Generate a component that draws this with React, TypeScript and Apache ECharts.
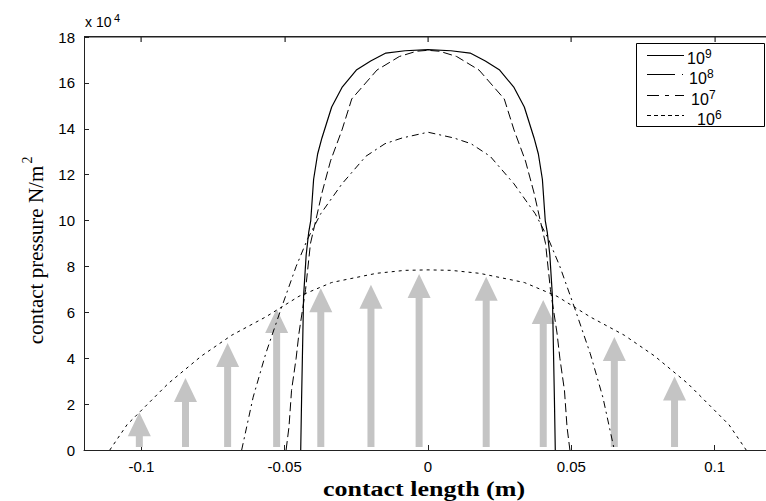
import React, { useEffect, useRef } from 'react';
import * as echarts from 'echarts';

// ---- data ----
const xTicks = [-0.1, -0.05, 0, 0.05, 0.1];
const yTicks = [0, 2, 4, 6, 8, 10, 12, 14, 16, 18];

const e9x = [-0.0444, -0.0441, -0.0434, -0.0425, -0.0416, -0.0409, -0.0399, -0.0385, -0.037, -0.0336, -0.030, -0.025, -0.020, -0.0147, -0.008, 0, 0.008, 0.0147, 0.020, 0.025, 0.030, 0.0336, 0.037, 0.0385, 0.0399, 0.0409, 0.0416, 0.0425, 0.0434, 0.0441, 0.0444];
const e9y = [0, 2.2, 6.7, 8.5, 9.5, 10.0, 11.8, 12.9, 13.6, 14.95, 15.8, 16.56, 16.95, 17.3, 17.4, 17.45, 17.4, 17.3, 16.95, 16.56, 15.8, 14.95, 13.6, 12.9, 11.8, 10.0, 9.5, 8.5, 6.7, 2.2, 0];

const e8x = [-0.0495, -0.0485, -0.0476, -0.046, -0.045, -0.0427, -0.041, -0.0388, -0.037, -0.034, -0.030, -0.0266, -0.0178, -0.010, -0.004, 0, 0.004, 0.010, 0.0178, 0.0266, 0.030, 0.034, 0.037, 0.0388, 0.041, 0.0427, 0.045, 0.046, 0.0476, 0.0485, 0.0495];
const e8y = [0, 1.0, 2.6, 4.0, 5.1, 7.0, 9.0, 10.2, 11.2, 12.6, 13.95, 15.3, 16.56, 17.15, 17.38, 17.42, 17.38, 17.15, 16.56, 15.3, 13.95, 12.6, 11.2, 10.2, 9.0, 7.0, 5.1, 4.0, 2.6, 1.0, 0];

const e7x = [-0.065, -0.061, -0.0566, -0.0514, -0.046, -0.042, -0.0374, -0.030, -0.0217, -0.015, -0.009, 0, 0.009, 0.015, 0.0217, 0.030, 0.0374, 0.042, 0.046, 0.0514, 0.0566, 0.061, 0.065];
const e7y = [0, 2.3, 4.2, 6.1, 8.0, 9.2, 10.3, 11.6, 12.8, 13.35, 13.6, 13.85, 13.6, 13.35, 12.8, 11.6, 10.3, 9.2, 8.0, 6.1, 4.2, 2.3, 0];

const e6x = [-0.111, -0.105, -0.0986, -0.0906, -0.079, -0.0685, -0.0566, -0.045, -0.0336, -0.018, -0.008, 0, 0.008, 0.018, 0.0336, 0.045, 0.0566, 0.0685, 0.079, 0.0906, 0.0986, 0.105, 0.111];
const e6y = [0, 1.1, 1.9, 2.9, 4.1, 5.0, 5.8, 6.7, 7.3, 7.7, 7.83, 7.85, 7.83, 7.7, 7.3, 6.7, 5.8, 5.0, 4.1, 2.9, 1.9, 1.1, 0];

const arrowX = [-0.1007, -0.0846, -0.0699, -0.0528, -0.0374, -0.0199, -0.0031, 0.0203, 0.0402, 0.065, 0.086];
const arrowTip = [1.65, 3.14, 4.66, 6.15, 7.05, 7.2, 7.67, 7.55, 6.54, 4.93, 3.2];

const X_MIN = -0.12;
const X_MAX = 0.12;
const Y_MAX = 18;

const zip = (xs: number[], ys: number[]) => xs.map((x, i) => [x, ys[i]]);

export default function App() {
  const ref = useRef<HTMLDivElement>(null);

  useEffect(() => {
    if (!ref.current) return;
    const chart = echarts.init(ref.current, undefined, { renderer: 'svg' });
    const axisColor = '#222';
    const lineBase = { type: 'line', showSymbol: false, symbol: 'none', z: 3, silent: true };
    const arrowFill = '#c4c4c4';
    const txt = (x: number, y: number, text: string, size: number, extra: any = {}) => ({
      type: 'text', z: 11, x, y,
      style: { text, fontFamily: 'Liberation Sans', fontSize: size, fill: '#000', align: 'left', verticalAlign: 'bottom', textAlign: 'left', textVerticalAlign: 'bottom', ...extra },
    });

    const option: any = {
      animation: false,
      backgroundColor: '#fff',
      grid: { left: 84, top: 37, right: -6, bottom: 51, containLabel: false, outerBoundsMode: 'none' },
      xAxis: [
        {
          type: 'value', min: X_MIN, max: X_MAX, position: 'bottom',
          axisLine: { show: true, onZero: false, lineStyle: { color: axisColor, width: 1 } },
          axisTick: { show: true, inside: true, length: 5, customValues: xTicks, lineStyle: { color: axisColor } },
          axisLabel: {
            customValues: xTicks, color: '#000', fontFamily: 'Liberation Sans', fontSize: 15, margin: 9,
            formatter: (v: number) => String(v),
          },
          splitLine: { show: false },
        },
      ],
      yAxis: [
        {
          type: 'value', min: 0, max: Y_MAX, interval: 2, position: 'left',
          axisLine: { show: true, onZero: false, lineStyle: { color: axisColor, width: 1 } },
          axisTick: { show: true, inside: true, length: 5, lineStyle: { color: axisColor } },
          axisLabel: { color: '#000', fontFamily: 'Liberation Sans', fontSize: 15, margin: 9, customValues: yTicks },
          splitLine: { show: false },
        },
      ],
      series: [
        {
          type: 'custom', name: 'arrows', z: 1, silent: true,
          data: zip(arrowX, arrowTip),
          renderItem: (params: any, api: any) => {
            const tip = api.coord([api.value(0), api.value(1)]);
            const base = api.coord([api.value(0), 0]);
            const headH = 24, headW = 23, shaftW = 7;
            const shaftTop = tip[1] + headH - 1;
            const shaftBottom = base[1] - 3;
            return {
              type: 'group',
              children: [
                { type: 'rect', shape: { x: tip[0] - shaftW / 2, y: shaftTop, width: shaftW, height: Math.max(0, shaftBottom - shaftTop) }, style: { fill: arrowFill } },
                { type: 'polygon', shape: { points: [[tip[0], tip[1]], [tip[0] - headW / 2, tip[1] + headH], [tip[0] + headW / 2, tip[1] + headH]] }, style: { fill: arrowFill } },
              ],
            };
          },
        },
        {
          // inside ticks on the top frame edge, placed through the axis scales
          type: 'custom', name: 'topTicks', z: 4, silent: true, clip: false,
          data: xTicks.map((v) => [v, Y_MAX]),
          renderItem: (params: any, api: any) => {
            const p = api.coord([api.value(0), api.value(1)]);
            return { type: 'rect', shape: { x: Math.round(p[0]) - 0.5, y: p[1], width: 1.2, height: 5 }, style: { fill: axisColor } };
          },
        },
        { ...lineBase, name: '10^6', data: zip(e6x, e6y), lineStyle: { color: '#000', width: 1, type: [3, 4] } },
        { ...lineBase, name: '10^7', data: zip(e7x, e7y), lineStyle: { color: '#000', width: 1, type: [7, 4, 2, 4] } },
        { ...lineBase, name: '10^8', data: zip(e8x, e8y), lineStyle: { color: '#000', width: 1, type: [9, 4] } },
        { ...lineBase, name: '10^9', data: zip(e9x, e9y), lineStyle: { color: '#000', width: 1.2 } },
      ],
      graphic: [
        // plot frame top edge
        { type: 'rect', z: 20, shape: { x: 84, y: 36, width: 682, height: 1.4 }, style: { fill: axisColor } },
        // multiplier
        txt(85, 29, 'x 10', 14),
        txt(114, 23, '4', 11),
        // y axis title
        { type: 'text', x: 36, y: 255, rotation: Math.PI / 2, style: { text: 'contact pressure N/m', fontFamily: 'Liberation Serif', fontSize: 21, fill: '#000', align: 'center', verticalAlign: 'middle', textAlign: 'center', textVerticalAlign: 'middle' } },
        { type: 'text', x: 27, y: 160, rotation: Math.PI / 2, style: { text: '2', fontFamily: 'Liberation Serif', fontSize: 14, fill: '#000', align: 'center', verticalAlign: 'middle', textAlign: 'center', textVerticalAlign: 'middle' } },
        // x axis title
        { type: 'text', x: 424, y: 489, scaleX: 1.3, style: { text: 'contact length (m)', fontFamily: 'Liberation Serif', fontWeight: 'bold', fontSize: 20, fill: '#000', align: 'center', verticalAlign: 'middle', textAlign: 'center', textVerticalAlign: 'middle' } },
        // legend
        { type: 'rect', z: 10, shape: { x: 636.5, y: 43.5, width: 128, height: 83 }, style: { fill: '#fff', stroke: '#000', lineWidth: 1 } },
        { type: 'line', z: 11, shape: { x1: 647, y1: 55.5, x2: 684, y2: 55.5 }, style: { stroke: '#000', lineWidth: 1 } },
        { type: 'line', z: 11, shape: { x1: 647, y1: 74.5, x2: 684, y2: 74.5 }, style: { stroke: '#000', lineWidth: 1, lineDash: [28, 7, 1, 10] } },
        { type: 'line', z: 11, shape: { x1: 647, y1: 95.5, x2: 684, y2: 95.5 }, style: { stroke: '#000', lineWidth: 1, lineDash: [12, 6, 4, 6] } },
        { type: 'line', z: 11, shape: { x1: 647, y1: 115.5, x2: 684, y2: 115.5 }, style: { stroke: '#000', lineWidth: 1, lineDash: [4, 3] } },
        txt(687, 66, '10', 16), txt(705, 60, '9', 12),
        txt(689, 86, '10', 16), txt(707, 80, '8', 12),
        txt(691, 107, '10', 16), txt(709, 101, '7', 12),
        txt(697, 127, '10', 16), txt(715, 121, '6', 12),
      ],
    };
    chart.setOption(option);
    return () => chart.dispose();
  }, []);

  return (
    <div
      ref={ref}
      style={{ position: 'fixed', left: 0, top: 0, width: 766, height: 501, background: '#fff' }}
    />
  );
}
